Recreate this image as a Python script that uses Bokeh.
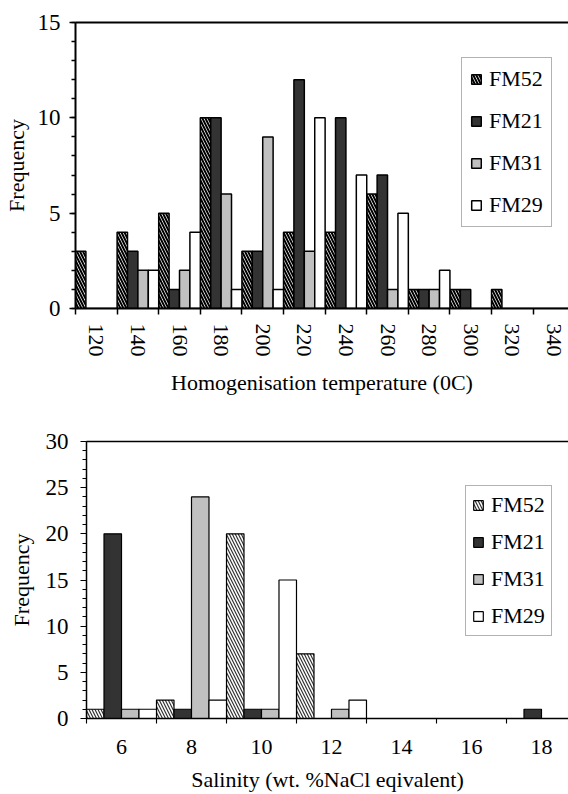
from bokeh.plotting import figure
from bokeh.models import ColumnDataSource, Range1d, FixedTicker, LinearAxis, Legend, LegendItem
from bokeh.transform import dodge
from bokeh.embed import file_html
from bokeh.resources import INLINE

series_names = ["FM52", "FM21", "FM31", "FM29"]

# Homogenisation temperature histogram
temp_labels = ["120", "140", "160", "180", "200", "220", "240", "260", "280", "300", "320", "340"]
temp_FM52 = [3, 4, 5, 10, 3, 4, 4, 6, 1, 1, 1, 0]
temp_FM21 = [0, 3, 1, 10, 3, 12, 10, 7, 1, 1, 0, 0]
temp_FM31 = [0, 2, 2, 6, 9, 3, 0, 1, 1, 0, 0, 0]
temp_FM29 = [0, 2, 4, 1, 1, 10, 7, 5, 2, 0, 0, 0]

# Salinity histogram
sal_labels = ["6", "8", "10", "12", "14", "16", "18"]
sal_FM52 = [1, 2, 20, 7, 0, 0, 0]
sal_FM21 = [20, 1, 1, 0, 0, 0, 1]
sal_FM31 = [1, 24, 1, 1, 0, 0, 0]
sal_FM29 = [1, 2, 15, 2, 0, 0, 0]

FONT = "'Liberation Serif', 'Times New Roman', serif"
W = 568


def build(labels, series, y_end, y_major, x_end, height, mb_left, mb_top, mb_bottom,
          xlabel, rotate, axis_w, bar_w, hatch_w, hatch_c, hatch_s, legend_loc, legend_spacing,
          legend_pad, minor_out, label_standoff, title_standoff, y_lab_standoff, y_title_standoff):
    n = len(labels)
    data = dict(idx=list(range(n)))
    for name, vals in zip(series_names, series):
        data[name] = vals
    src = ColumnDataSource(data)
    p = figure(width=W, height=height, x_range=Range1d(-0.5, x_end), y_range=Range1d(0, y_end),
               output_backend="svg", toolbar_location=None,
               min_border_left=mb_left, min_border_right=0, min_border_top=mb_top,
               min_border_bottom=mb_bottom)
    p.outline_line_color = None
    p.xgrid.grid_line_color = None
    p.ygrid.grid_line_color = None
    p.background_fill_color = "white"
    p.border_fill_color = "white"

    styles = [
        dict(fill_color="white", hatch_pattern="\\", hatch_color=hatch_c, hatch_scale=hatch_s, hatch_weight=hatch_w),
        dict(fill_color="#333333"),
        dict(fill_color="#c0c0c0"),
        dict(fill_color="white"),
    ]
    items = []
    for j, name in enumerate(series_names):
        r = p.vbar(x=dodge("idx", -0.375 + 0.25 * j), top=name, width=0.25, source=src,
                   line_color="black", line_width=bar_w, **styles[j])
        items.append(LegendItem(label=name, renderers=[r]))

    # y axis
    ya = p.yaxis[0]
    ya.ticker = FixedTicker(ticks=list(range(0, y_end + 1, y_major)), minor_ticks=list(range(0, y_end + 1)))
    ya.axis_line_width = axis_w
    ya.axis_line_color = "black"
    ya.major_tick_line_color = "black"
    ya.minor_tick_line_color = "black"
    ya.major_tick_line_width = axis_w * 0.75
    ya.minor_tick_line_width = axis_w * 0.75
    ya.major_tick_in = 0
    ya.major_tick_out = 6
    ya.minor_tick_in = 0
    ya.minor_tick_out = 4
    ya.major_label_standoff = y_lab_standoff
    ya.major_label_text_font = FONT
    ya.major_label_text_font_size = "23px"
    ya.major_label_text_color = "black"
    ya.axis_label = "Frequency"
    ya.axis_label_text_font = FONT
    ya.axis_label_text_font_size = "22px"
    ya.axis_label_text_font_style = "normal"
    ya.axis_label_text_color = "black"
    ya.axis_label_standoff = y_title_standoff

    # x axis: labels at category centres, ticks at category boundaries
    xa = p.xaxis[0]
    xa.ticker = FixedTicker(ticks=list(range(n)), minor_ticks=[i - 0.5 for i in range(n + 1)])
    xa.major_label_overrides = {i: lab for i, lab in enumerate(labels)}
    xa.axis_line_width = axis_w
    xa.axis_line_color = "black"
    xa.minor_tick_line_color = "black"
    xa.major_tick_in = 0
    xa.major_tick_out = 0
    xa.minor_tick_in = 0
    xa.minor_tick_out = minor_out
    xa.minor_tick_line_width = axis_w * 0.75
    xa.major_label_standoff = label_standoff
    xa.major_label_text_font = FONT
    xa.major_label_text_font_size = "22px"
    xa.major_label_text_color = "black"
    if rotate:
        xa.major_label_orientation = "vertical"
    xa.axis_label = xlabel
    xa.axis_label_text_font = FONT
    xa.axis_label_text_font_size = "22px"
    xa.axis_label_text_font_style = "normal"
    xa.axis_label_text_color = "black"
    xa.axis_label_standoff = title_standoff

    # top frame line
    top = LinearAxis(ticker=FixedTicker(ticks=[]), axis_line_width=axis_w, axis_line_color="black",
                     major_tick_out=0, major_tick_in=0, minor_tick_out=0, minor_tick_in=0,
                     major_label_text_font_size="0px")
    p.add_layout(top, "above")

    legend = Legend(items=items, location=legend_loc, margin=0, padding=legend_pad,
                    spacing=legend_spacing, glyph_width=12, glyph_height=12,
                    label_standoff=7, label_height=22,
                    label_text_font=FONT, label_text_font_size="22px", label_text_color="black",
                    border_line_color="#666666", border_line_width=1,
                    background_fill_color="white", background_fill_alpha=1)
    p.add_layout(legend)
    return p


p1 = build(temp_labels, [temp_FM52, temp_FM21, temp_FM31, temp_FM29], 15, 5, 11.35, 410,
           75, 22, 102, "Homogenisation temperature (0C)", True, 2, 1.5, 2, "black", 6,
           (386, 81), 16, 8, 6, 9, 10, 9, 6)
p2 = build(sal_labels, [sal_FM52, sal_FM21, sal_FM31, sal_FM29], 30, 5, 6.386, 384,
           86, 31, 76, "Salinity (wt. %NaCl eqivalent)", False, 1.5, 1.2, 1.2, "#333333", 6,
           (379, 82), 11, 6, 5, 16, 10, 12, 9)

# two independent roots so that the two plot frames keep their own left edges
open("out.html", "w").write(file_html([p1, p2], INLINE))
